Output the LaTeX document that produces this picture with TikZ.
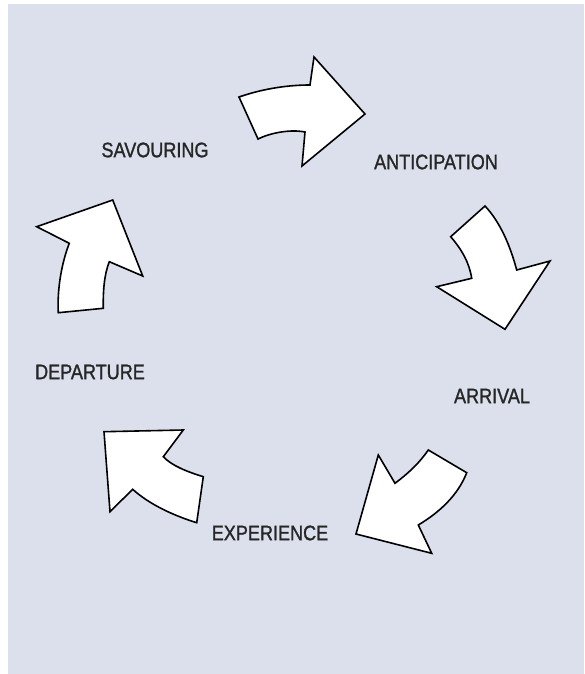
\documentclass[tikz,border=0pt]{standalone}
\usepackage{fontspec}
\setmainfont{Liberation Sans}[FakeStretch=0.86, FakeBold=1.2]
\definecolor{Panel}{HTML}{DBE0EC}
\definecolor{Ink}{HTML}{262626}

\tikzset{
  stage/.style={inner sep=0pt, text=Ink, font=\fontsize{21}{25}\selectfont},
  cyclearrow/.style={fill=white, draw=black, line width=1.6pt, line join=miter}
}

\begin{document}
\begin{tikzpicture}[x=1pt, y=-1pt]
  \useasboundingbox (0,0) rectangle (584,674);
  \fill[Panel] (8,4) rectangle (584,674);

  % stage labels
  \node[stage] (savouring) at (155,150) {SAVOURING};
  \node[stage] (anticipation) at (436,162) {ANTICIPATION};
  \node[stage] (arrival) at (492,396) {ARRIVAL};
  \node[stage] (experience) at (270,533) {EXPERIENCE};
  \node[stage] (departure) at (90,372) {DEPARTURE};

  % block arrows round the cycle
  \draw[cyclearrow] (239,97) .. controls (265,88) and (290,85) .. (310,85)
    -- (314,57) -- (365,114) -- (302,166) -- (305,132)
    .. controls (290,129) and (270,133) .. (258,139) -- cycle;
  \draw[cyclearrow] (485,206) -- (450.7,236.7)
    .. controls (462,250) and (469,262) .. (471.7,278.3)
    -- (436.7,286.7) -- (505,329.3) -- (550,261) -- (516.7,270)
    .. controls (510,245) and (500,222) .. cycle;
  \draw[cyclearrow] (428.3,450) -- (466.7,472.7)
    .. controls (458,495) and (440,512) .. (418.3,525)
    -- (431.7,553.3) -- (356,534) -- (378.3,455) -- (395,483.3)
    .. controls (410,472) and (420,462) .. cycle;
  \draw[cyclearrow] (104,431.7) -- (183.3,430) -- (163.3,456.7)
    .. controls (172,466) and (188,472) .. (203.3,476.7)
    -- (196.7,522.7) .. controls (175,516) and (150,505) .. (132.7,489.3)
    -- (110,511.7) -- cycle;
  \draw[cyclearrow] (36.7,226.7) -- (112.7,200) -- (142.7,276) -- (109.3,261.7)
    .. controls (104,275) and (103,292) .. (103.3,308.3)
    -- (58.3,312.7) .. controls (57,288) and (62,262) .. (69.3,243.3) -- cycle;
\end{tikzpicture}
\end{document}
